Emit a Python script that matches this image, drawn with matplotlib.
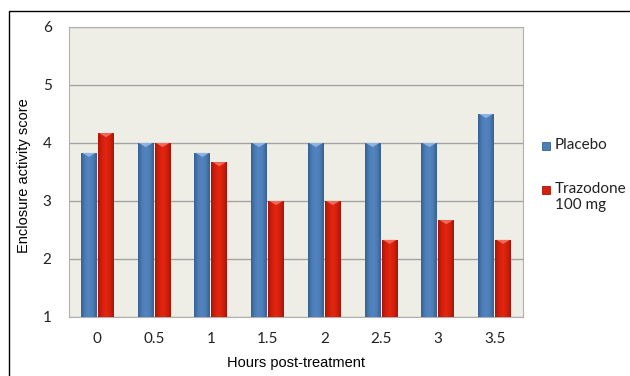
import numpy as np
import matplotlib
matplotlib.use('Agg')
import matplotlib.pyplot as plt
from matplotlib.colors import LinearSegmentedColormap
from matplotlib.patches import Rectangle

hours = ['0', '0.5', '1', '1.5', '2', '2.5', '3', '3.5']
placebo = [3.83, 4.0, 3.83, 4.0, 4.0, 4.0, 4.0, 4.5]
trazodone = [4.17, 4.0, 3.67, 3.0, 3.0, 2.33, 2.67, 2.33]
series_names = ['Placebo', 'Trazodone\n100 mg']

W, H = 630, 376
fig = plt.figure(figsize=(6.3, 3.76), dpi=100)
fig.patch.set_facecolor('white')

# outer chart border (runs off the right and bottom edge)
fig.patches.append(Rectangle((9 / W, -0.05), 1.0, 1 - 11 / H + 0.05,
                             transform=fig.transFigure, fill=False,
                             edgecolor='black', linewidth=1.0))

ax = fig.add_axes([69 / W, 1 - 317 / H, (523 - 69) / W, (317 - 27) / H])
ax.set_facecolor('#EFEEE6')

x = np.arange(len(hours))
w = 0.28
gap = 0.02

blue_cmap = LinearSegmentedColormap.from_list('b', ['#36618F', '#4C7DB6', '#5585C0', '#4C7DB6', '#36618F'])
red_cmap = LinearSegmentedColormap.from_list('r', ['#A81608', '#D41F0C', '#E2260F', '#D41F0C', '#A81608'])

grad = np.linspace(0, 1, 64).reshape(1, -1)


def shaded_bars(xs, vals, cmap, top_color):
    bars = ax.bar(xs, np.array(vals) - 1, width=w, bottom=1, color='none',
                  edgecolor='none', zorder=3)
    for b in bars:
        x0, y0 = b.get_x(), b.get_y()
        im = ax.imshow(grad, cmap=cmap, aspect='auto', zorder=3,
                       extent=[x0, x0 + b.get_width(), y0, y0 + b.get_height()])
        im.set_clip_path(b)
        # little highlight at top of each bar
        cx = x0 + b.get_width() / 2
        yt = y0 + b.get_height()
        ax.fill([x0 + 0.02, x0 + b.get_width() - 0.02, cx],
                [yt, yt, yt - 0.07], color=top_color, zorder=4, lw=0)
    return bars


shaded_bars(x - w / 2 - gap / 2, placebo, blue_cmap, '#8DB3E2')
shaded_bars(x + w / 2 + gap / 2, trazodone, red_cmap, '#F26A5A')

ax.set_xlim(-0.5, len(hours) - 0.5)
ax.set_ylim(1, 6)
ax.set_yticks([1, 2, 3, 4, 5, 6])
ax.set_xticks(x)
ax.set_xticklabels(hours)
ax.yaxis.grid(True, color='#A3A3A3', linewidth=1.0, zorder=0)
ax.set_axisbelow(True)
for s in ax.spines.values():
    s.set_color('#B0B0B0')
ax.tick_params(length=0, labelsize=11, colors='#222222')
for lab in ax.get_xticklabels() + ax.get_yticklabels():
    lab.set_fontfamily('Lato')
ax.tick_params(axis='y', pad=12.5)
ax.tick_params(axis='x', pad=11)

ax.set_xlabel('Hours post-treatment', fontsize=10.5, family='Liberation Sans', labelpad=7)
fig.text(24 / W, 1 - 176 / H, 'Enclosure activity score', rotation=90,
         ha='center', va='center', fontsize=10.5, family='Liberation Sans')

# legend, drawn by hand so the swatch sits on the first text line
leg_colors = ['#4C7DB6', '#D41F0C']
leg_edges = ['#36618F', '#A81608']
leg_tops = [141, 185]
for name, fc, ec, top in zip(series_names, leg_colors, leg_edges, leg_tops):
    fig.patches.append(Rectangle((542 / W, 1 - (top + 9) / H), 8 / W, 8 / H,
                                 transform=fig.transFigure, facecolor=fc,
                                 edgecolor=ec, linewidth=0.6))
    fig.text(555 / W, 1 - (top - 3) / H, name, ha='left', va='top',
             family='Lato', fontsize=11, color='#222222', linespacing=1.15)

fig.savefig('out.png', dpi=100)
